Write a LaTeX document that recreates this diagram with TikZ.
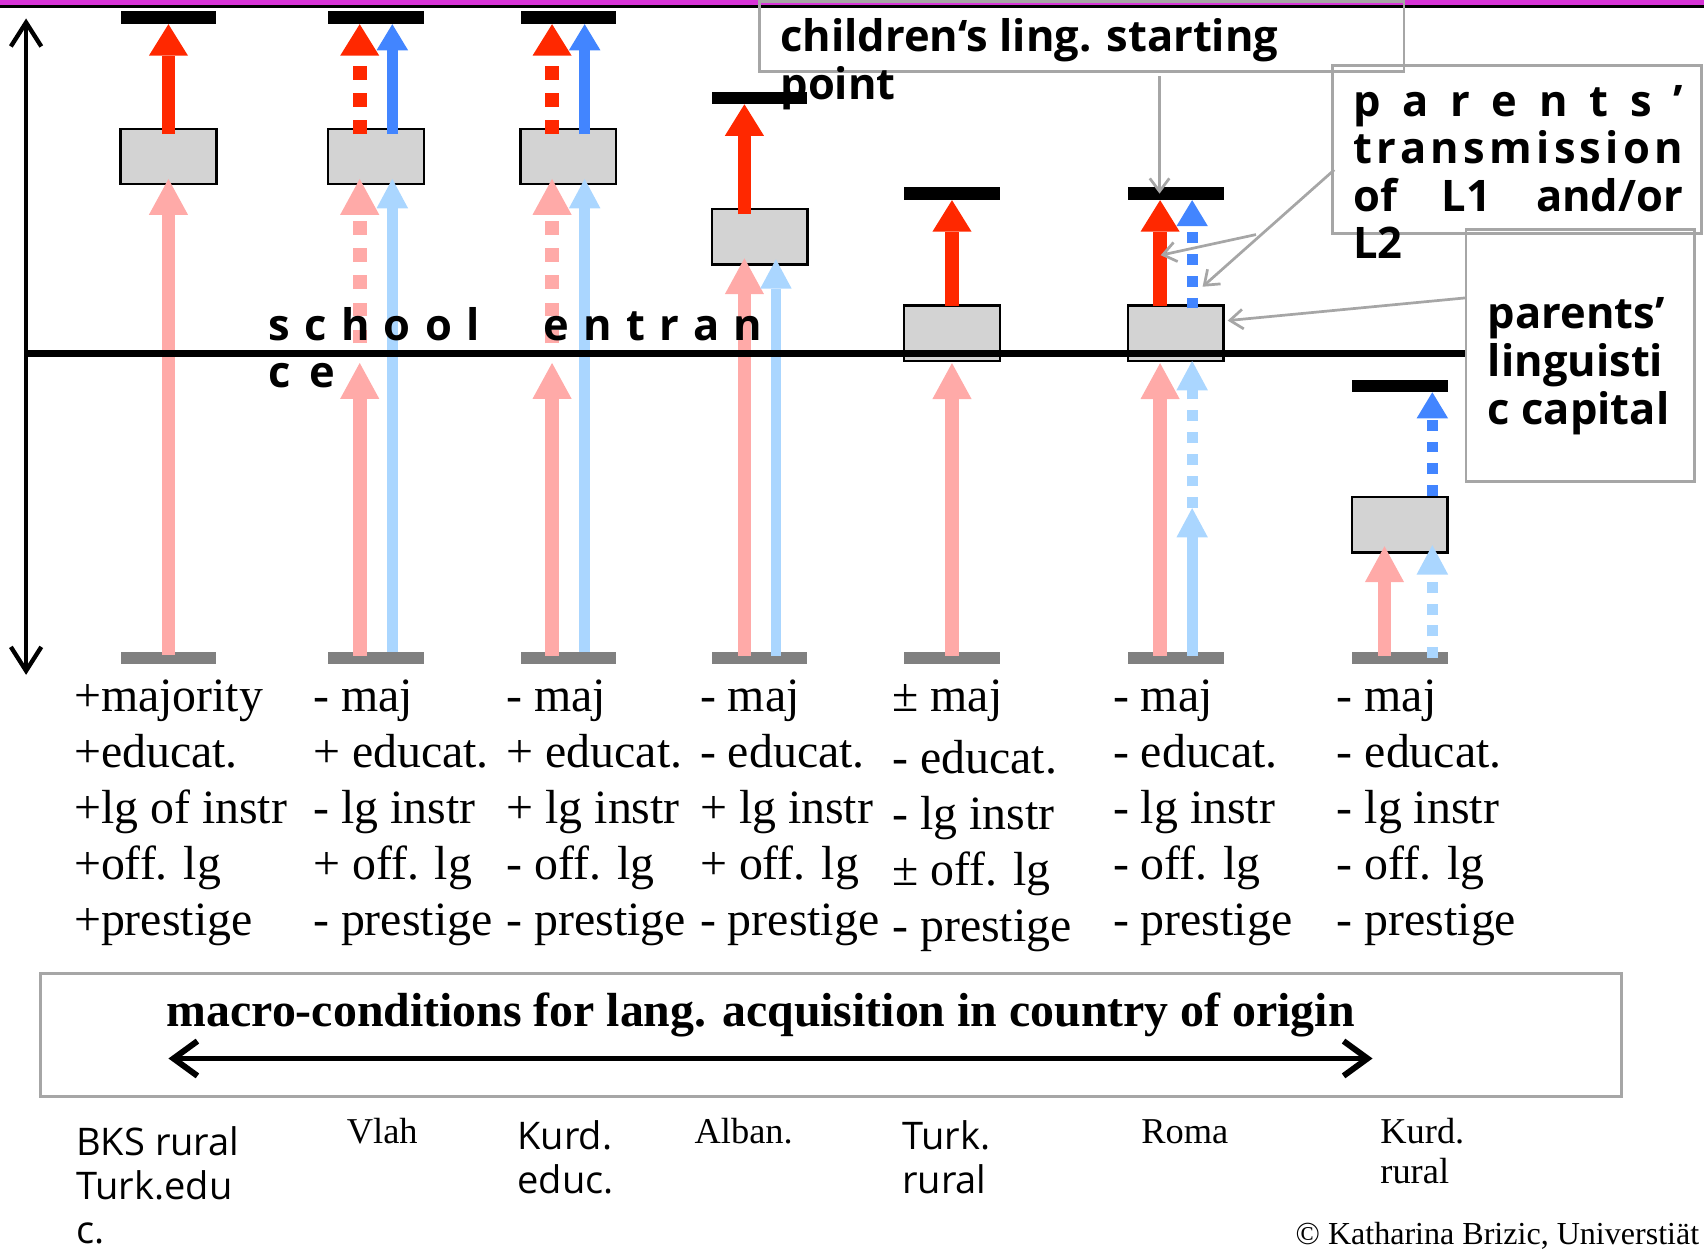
\documentclass[tikz,border=0pt]{standalone}
\usepackage{fontspec}
\setmainfont{Liberation Serif}
\setsansfont{Open Sans}
\usetikzlibrary{arrows.meta,calc}
\definecolor{capred}{RGB}{255,40,0}
\definecolor{capblue}{RGB}{66,133,255}
\definecolor{rootpink}{RGB}{255,170,168}
\definecolor{rootblue}{RGB}{170,214,255}
\definecolor{slidemagenta}{RGB}{214,52,214}
\definecolor{notegray}{RGB}{166,166,166}
\definecolor{levelgray}{RGB}{211,211,211}
\definecolor{floorgray}{RGB}{128,128,128}
\tikzset{
  levelbox/.style={
    rectangle, draw=black, line width=2.3pt, fill=levelgray,
    minimum width=88pt, minimum height=51pt, inner sep=0pt
  },
  capbar/.style={
    rectangle, fill=black, minimum width=88pt, minimum height=11.5pt,
    inner sep=0pt
  },
  floorbar/.style={capbar, fill=floorgray},
  arrowR/.style={-{Triangle[length=29pt,width=36pt,line width=0pt]},
    line width=12.6pt, color=capred},
  arrowB/.style={-{Triangle[length=24pt,width=29pt,line width=0pt]},
    line width=10pt, color=capblue},
  arrowP/.style={-{Triangle[length=33pt,width=36pt,line width=0pt]},
    line width=12.6pt, color=rootpink},
  arrowL/.style={-{Triangle[length=27pt,width=29pt,line width=0pt]},
    line width=10pt, color=rootblue},
  dotR/.style={dash pattern=on 12.5pt off 12.5pt},
  dotB/.style={dash pattern=on 10pt off 10pt},
  sideaxis/.style={
    {Straight Barb[length=22pt,width=28pt]}-{Straight Barb[length=22pt,width=28pt]},
    line width=4pt
  },
  macroarrow/.style={
    {Straight Barb[length=22pt,width=32pt]}-{Straight Barb[length=22pt,width=32pt]},
    line width=5.5pt
  },
  notebox/.style={rectangle, draw=notegray, line width=2.5pt, inner sep=0pt},
  notetext/.style={font=\sffamily\bfseries\fontsize{40}{44}\selectfont,
    inner sep=0pt, anchor=base west},
  pointer/.style={-{Straight Barb[length=12pt,width=18pt]}, draw=notegray,
    line width=2.5pt},
  cond/.style={font=\rmfamily\fontsize{44}{51}\selectfont, inner sep=0pt,
    anchor=base west},
  grpsf/.style={font=\sffamily\fontsize{35}{40}\selectfont, inner sep=0pt,
    anchor=base west},
  grprm/.style={font=\rmfamily\fontsize{33.5}{38}\selectfont, inner sep=0pt,
    anchor=base west}
}

\begin{document}
\begin{tikzpicture}[x=1pt,y=-1pt]
  \useasboundingbox (0,0) rectangle (1568,1151);
  % slide header
  \fill[slidemagenta] (0,0) rectangle (1568,5);
  \fill[black] (0,5) rectangle (1568,7);

  % levels of the seven groups
  \foreach \k/\cx/\by/\cy in {1/155/144/16.3,2/346/144/16.3,3/523/144/16.3,
      4/699/218/90,5/876/306.5/178.2,6/1082/306.5/178.2,7/1288/483/355} {
    \node[levelbox] (box\k) at (\cx,\by) {};
    \node[capbar] (cap\k) at (\cx,\cy) {};
    \node[floorbar] (base\k) at (\cx,605.5) {};
  }

  % axis and school entry line
  \coordinate (axtop) at (24,17);
  \coordinate (axbot) at (24,621);
  \coordinate (school) at (24,325.5);
  \coordinate (schoolend) at (1350,325.5);
  \draw[sideaxis] (axtop) -- (axbot);

  % BKS rural / Turk. educ.
  \draw[arrowP] ($(base1.north)+(0,3)$) -- ($(box1.south)+(0,-6)$);
  \draw[arrowR] ($(box1.north)+(0,6)$) -- (cap1.south);
  % Vlah and Kurd. educ.
  \foreach \k in {2,3} {
    \draw[arrowP] ($(base\k.north)+(-15,4)$) -- ($(base\k.north |- school)+(-15,8.5)$);
    \draw[arrowP,dotR] ($(base\k.north |- school)+(-15,-9.5)$) -- ($(box\k.south)+(-15,-6)$);
    \draw[arrowL] ($(base\k.north)+(15,0)$) -- ($(box\k.south)+(15,-6)$);
    \draw[arrowR,dotR] ($(box\k.north)+(-15,6)$) -- ($(cap\k.south)+(-15,0)$);
    \draw[arrowB] ($(box\k.north)+(15,6)$) -- ($(cap\k.south)+(15,0)$);
  }
  % Alban.
  \draw[arrowP] ($(base4.north)+(-14,4)$) -- ($(box4.south)+(-14,-7)$);
  \draw[arrowL] ($(base4.north)+(15,4)$) -- ($(box4.south)+(15,-6)$);
  \draw[arrowR] ($(box4.north)+(-14,6)$) -- ($(cap4.south)+(-14,0)$);
  % Turk. rural
  \draw[arrowP] ($(base5.north)+(0,4)$) -- ($(box5.south)+(0,1)$);
  \draw[arrowR] ($(box5.north)+(0,2)$) -- (cap5.south);
  % Roma
  \draw[arrowP] ($(base6.north)+(-14.5,4)$) -- ($(box6.south)+(-14.5,1)$);
  \draw[arrowL] ($(base6.north)+(15,4)$) -- ($(base6.north)+(15,-132)$);
  \draw[arrowL,dotB] ($(base6.north)+(15,-132)$) -- ($(box6.south)+(15,-1)$);
  \draw[arrowR] ($(box6.north)+(-14.5,2)$) -- ($(cap6.south)+(-14.5,0)$);
  \draw[arrowB,dotB] ($(box6.north)+(15,4)$) -- ($(cap6.south)+(15,0)$);
  % Kurd. rural
  \draw[arrowP] ($(base7.north)+(-14,4)$) -- ($(box7.south)+(-14,-7)$);
  \draw[arrowL,dotB] ($(base7.north)+(30,6)$) -- ($(box7.south)+(30,-8)$);
  \draw[arrowB,dotB] ($(box7.north)+(30,0)$) -- ($(cap7.south)+(30,0)$);

  \draw[line width=6.6pt] (school) -- (schoolend);
  \node[notetext] (schooltxt) at (247,313.5) {\makebox[454.5pt][l]{s\hfill c\hfill
    h\hfill o\hfill o\hfill l\hskip 0pt plus 4.5fill e\hfill n\hfill t\hfill r\hfill
    a\hfill n}};
  \node[notetext] (schooltxtb) at (247,357) {c\hspace{17pt}e};

  % notes
  \node[notebox, minimum width=593pt, minimum height=64.5pt] (kids) at (995.5,33.75) {};
  \node[notetext] (kidsA) at (718,47.5) {children‘s ling. starting};
  \node[notetext] (kidsB) at (718,92) {point};
  \node[notebox, minimum width=340pt, minimum height=154.6pt] (trans) at (1396,137.3) {};
  \node[notetext] (transA) at (1245,107)
    {\makebox[303.5pt]{p\hfill a\hfill r\hfill e\hfill n\hfill t\hfill s\hfill ’}};
  \node[notetext] (transB) at (1245,150)
    {\makebox[303.5pt]{t\hfill r\hfill a\hfill n\hfill s\hfill m\hfill i\hfill s\hfill
    s\hfill i\hfill o\hfill n}};
  \node[notetext] (transC) at (1245,195) {\makebox[303.5pt]{of\hfill L1\hfill and/or}};
  \node[notetext] (transD) at (1245,237.6) {L2};
  \node[notebox, minimum width=210pt, minimum height=232pt] (ling) at (1454,327) {};
  \node[notetext] (lingA) at (1369,302) {parents’};
  \node[notetext] (lingB) at (1369,346.6) {linguisti};
  \node[notetext] (lingC) at (1369,391) {c capital};
  \draw[pointer] ($(kids.south -| cap6.center)+(-15,3)$) -- ($(cap6.center)+(-15,0)$);
  \draw[pointer] ($(trans.south west)+(-69,0)$) -- ($(box6.north)+(-14,-45)$);
  \draw[pointer] ($(trans.west)+(3,19)$) -- ($(box6.north)+(24.6,-16)$);
  \draw[pointer] ($(ling.west)+(2,-53)$) -- ($(box6.east)+(2.5,-11.5)$);

  % conditions in the country of origin
  \foreach \k/\cx/\dy/\lines in {
      1/68/0/{+majority,+educat.,+lg of instr,+off. lg,+prestige},
      2/288/0/{- maj,+ educat.,- lg instr,+ off. lg,- prestige},
      3/466/0/{- maj,+ educat.,+ lg instr,- off. lg,- prestige},
      4/644/0/{- maj,- educat.,+ lg instr,+ off. lg,- prestige},
      5/821/5.5/{± maj,- educat.,- lg instr,± off. lg,- prestige},
      6/1024/0/{- maj,- educat.,- lg instr,- off. lg,- prestige},
      7/1230/0/{- maj,- educat.,- lg instr,- off. lg,- prestige}} {
    \foreach \txt [count=\j] in \lines {
      \pgfmathsetmacro\yy{655+(\j-1)*51.4+(\j>1)*\dy}
      \node[cond] (cond\k-\j) at (\cx,\yy) {\txt};
    }
  }

  % macro-conditions
  \node[notebox, minimum width=1455pt, minimum height=113.3pt] (macro) at (764.5,952.35) {};
  \node[font=\rmfamily\bfseries\fontsize{44}{50}\selectfont, inner sep=0pt,
    anchor=base] (macrotxt) at (700,945)
    {macro-conditions for lang. acquisition in country of origin};
  \coordinate (macroL) at (155,974);
  \coordinate (macroR) at (1263,974);
  \draw[macroarrow] (macroL) -- (macroR);

  % groups
  \node[grpsf] (grp1a) at (70,1063) {BKS rural};
  \node[grpsf] (grp1b) at (70,1104) {Turk.edu};
  \node[grpsf] (grp1c) at (70,1144.5) {c.};
  \node[grprm] (grp2) at (319,1052) {Vlah};
  \node[grpsf] (grp3a) at (476,1058) {Kurd.};
  \node[grpsf] (grp3b) at (476,1098) {educ.};
  \node[grprm] (grp4) at (639,1052) {Alban.};
  \node[grpsf] (grp5a) at (830,1058) {Turk.};
  \node[grpsf] (grp5b) at (830,1098) {rural};
  \node[grprm] (grp6) at (1050,1052) {Roma};
  \node[grprm] (grp7a) at (1270,1052) {Kurd.};
  \node[grprm] (grp7b) at (1270,1089) {rural};
  \node[font=\rmfamily\fontsize{29.5}{34}\selectfont, inner sep=0pt,
    anchor=base west] (credit) at (1192,1145) {© Katharina Brizic, Universtiät};
\end{tikzpicture}
\end{document}
